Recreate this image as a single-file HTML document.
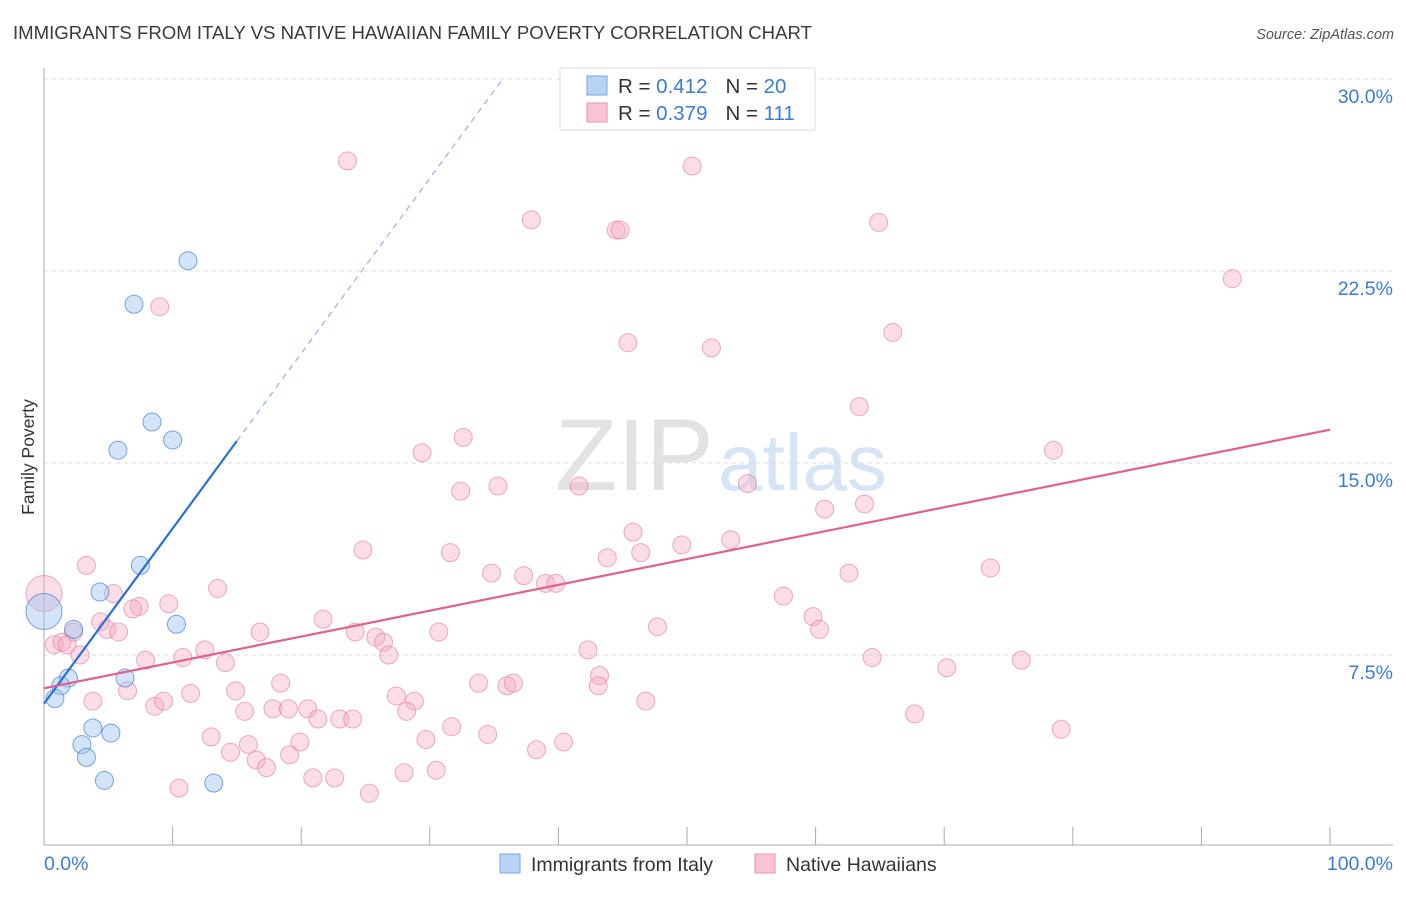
<!DOCTYPE html>
<html><head><meta charset="utf-8"><style>
body{margin:0;background:#fff;font-family:"Liberation Sans",sans-serif}
svg text{font-family:"Liberation Sans",sans-serif}
</style></head><body>
<svg id="chart" width="1406" height="892" viewBox="0 0 1406 892" xmlns="http://www.w3.org/2000/svg">
<text x="13" y="39" font-size="18.6" fill="#3a3a3a">IMMIGRANTS FROM ITALY VS NATIVE HAWAIIAN FAMILY POVERTY CORRELATION CHART</text>
<text x="1394" y="39" font-size="14.5" fill="#555" font-style="italic" text-anchor="end">Source: ZipAtlas.com</text>
<g>
<text x="555" y="490" font-size="102" fill="#e2e2e2" font-family="Liberation Serif,serif">ZIP</text>
<text x="718" y="490" font-size="80" fill="#d6e4f6">atlas</text>
</g>
<g id="grid"></g>
<g id="axes"></g>
<g id="pink"></g>
<g id="blue"></g>
<g id="lines"></g>
<text transform="translate(34,457) rotate(-90)" font-size="17.5" fill="#333" text-anchor="middle">Family Poverty</text>
<g>
<rect x="560" y="68" width="255" height="62" fill="#fff" stroke="#ddd"/>
<rect x="587" y="76" width="20" height="19" fill="#b8d2f4" stroke="#7aa6e4"/>
<rect x="587" y="103" width="20" height="19" fill="#f9c4d3" stroke="#ea94b0"/>
<text x="618" y="93" font-size="20.5" fill="#333">R = <tspan fill="#3d7bd4">0.412</tspan><tspan dx="18">N = </tspan><tspan fill="#3d7bd4">20</tspan></text>
<text x="618" y="120" font-size="20.5" fill="#333">R = <tspan fill="#3d7bd4">0.379</tspan><tspan dx="18">N = </tspan><tspan fill="#3d7bd4">111</tspan></text>
</g>
<g>
<rect x="500" y="854" width="20" height="19" fill="#b8d2f4" stroke="#7aa6e4"/>
<text x="531" y="871" font-size="19.5" fill="#333">Immigrants from Italy</text>
<rect x="755" y="854" width="20" height="19" fill="#f9c4d3" stroke="#ea94b0"/>
<text x="786" y="871" font-size="19.5" fill="#333">Native Hawaiians</text>
</g>
</svg>
<script>
const yTicks=[7.5,15,22.5,30];
const yTickLabels=["7.5%","15.0%","22.5%","30.0%"];
const xTickLabels=["0.0%","100.0%"];
const blueX=[11.2,7.0,8.4,10.0,5.75,7.5,4.35,0,10.3,2.3,1.9,6.3,1.3,0.85,3.8,5.2,2.95,3.3,4.7,13.2];
const blueY=[22.9,21.2,16.6,15.9,15.5,11.0,9.96,9.2,8.7,8.5,6.6,6.6,6.3,5.8,4.65,4.45,4.0,3.5,2.6,2.5];
const blueBig=[0,0,0,0,0,0,0,1,0,0,0,0,0,0,0,0,0,0,0,0];
const pinkX=[23.6,50.4,37.9,44.5,44.8,64.9,92.4,9.0,66.0,45.4,51.9,63.4,32.6,29.4,78.5,32.4,35.3,41.6,54.7,63.8,60.7,45.8,3.3,24.8,31.6,43.8,46.4,49.6,53.4,34.8,37.3,39.0,39.8,62.6,73.6,0,13.5,5.4,7.4,9.7,6.9,21.7,57.5,59.8,60.3,47.7,30.7,4.4,4.9,5.8,2.3,24.2,25.8,26.4,16.8,0.8,1.4,1.8,2.8,7.9,10.8,12.5,14.1,26.8,42.3,64.4,70.2,76.0,43.2,43.1,18.4,33.8,36.0,36.5,14.9,6.5,11.4,3.8,8.6,9.3,27.4,28.8,46.8,15.6,17.8,19.0,20.5,21.3,23.0,24.0,28.2,67.7,79.1,31.7,34.5,13.0,19.9,29.7,40.4,15.9,14.5,38.3,19.1,16.5,17.3,28.0,30.5,20.9,22.6,10.5,25.3];
const pinkY=[26.8,26.6,24.5,24.1,24.1,24.4,22.2,21.1,20.1,19.7,19.5,17.2,16.0,15.4,15.5,13.9,14.1,14.1,14.2,13.4,13.2,12.3,11.0,11.6,11.5,11.3,11.5,11.8,12.0,10.7,10.6,10.3,10.3,10.7,10.9,9.9,10.1,9.9,9.4,9.5,9.3,8.9,9.8,9.0,8.5,8.6,8.4,8.8,8.5,8.4,8.4,8.4,8.2,8.0,8.4,7.9,8.0,7.9,7.5,7.3,7.4,7.7,7.2,7.5,7.7,7.4,7.0,7.3,6.7,6.3,6.4,6.4,6.3,6.4,6.1,6.1,6.0,5.7,5.5,5.7,5.9,5.7,5.7,5.3,5.4,5.4,5.4,5.0,5.0,5.0,5.3,5.2,4.6,4.7,4.4,4.3,4.1,4.2,4.1,4.0,3.7,3.8,3.6,3.4,3.1,2.9,3.0,2.7,2.7,2.3,2.1];
const pinkBig=pinkX.map((v,i)=>i===35?1:0);
const blueTrend=[5.6,0.684];
const pinkTrend=[6.2,16.3];

const NS="http://www.w3.org/2000/svg";
const X0=44,X1=1330,YB=847,PPY=25.6;
const sx=v=>X0+(X1-X0)*v/100;
const sy=v=>YB-v*PPY;
function mk(tag,attrs,parent){const e=document.createElementNS(NS,tag);for(const k in attrs)e.setAttribute(k,attrs[k]);parent.appendChild(e);return e;}
const grid=document.getElementById('grid'),axes=document.getElementById('axes');
yTicks.forEach((t,i)=>{
 const l=mk('line',{x1:44,x2:1393,y1:sy(t),y2:sy(t),stroke:'#dcdcdc','stroke-dasharray':'4,4'},grid);
 
 
 const tx=mk('text',{x:1393,y:sy(t)+24,'font-size':19.5,fill:'#3d7bd4','text-anchor':'end'},axes);
 tx.textContent=yTickLabels[i];
 
 
});
const la=mk('line',{x1:44,x2:44,y1:68,y2:845,stroke:'#aaa'},axes);


const lb=mk('line',{x1:44,x2:1393,y1:845,y2:845,stroke:'#aaa'},axes);


for(let i=1;i<=10;i++){const t=mk('line',{x1:sx(i*10),x2:sx(i*10),y1:827,y2:845,stroke:'#aaa'},axes);
 
 }
const xl0=mk('text',{x:44,y:870,'font-size':19.5,fill:'#3d7bd4'},axes);xl0.textContent=xTickLabels[0];


const xl1=mk('text',{x:1393,y:870,'font-size':19.5,fill:'#3d7bd4','text-anchor':'end'},axes);xl1.textContent=xTickLabels[1];


const pg=document.getElementById('pink'),bg=document.getElementById('blue');
pinkX.forEach((v,i)=>{const c=mk('circle',{cx:sx(v),cy:sy(pinkY[i]),r:pinkBig[i]?18:9,fill:'rgba(245,170,195,0.4)',stroke:'rgba(228,120,155,0.6)','stroke-width':1},pg);
 
 });
blueX.forEach((v,i)=>{const c=mk('circle',{cx:sx(v),cy:sy(blueY[i]),r:blueBig[i]?18:9,fill:'rgba(160,195,240,0.45)',stroke:'rgba(80,135,215,0.75)','stroke-width':1},bg);
 
 });
const lg=document.getElementById('lines');
const bl=mk('line',{x1:sx(0),y1:sy(blueTrend[0]),x2:sx(15),y2:sy(blueTrend[0]+15*blueTrend[1]),stroke:'#2a6fd6','stroke-width':2.2},lg);


const xe=(30-blueTrend[0])/blueTrend[1];
const bd=mk('line',{x1:sx(15),y1:sy(blueTrend[0]+15*blueTrend[1]),x2:sx(xe),y2:sy(30),stroke:'#8fb2e6','stroke-width':1.2,'stroke-dasharray':'6,5'},lg);


const pl=mk('line',{x1:sx(0),y1:sy(pinkTrend[0]),x2:sx(100),y2:sy(pinkTrend[1]),stroke:'#e2608d','stroke-width':2.2},lg);


</script>
</body></html>
